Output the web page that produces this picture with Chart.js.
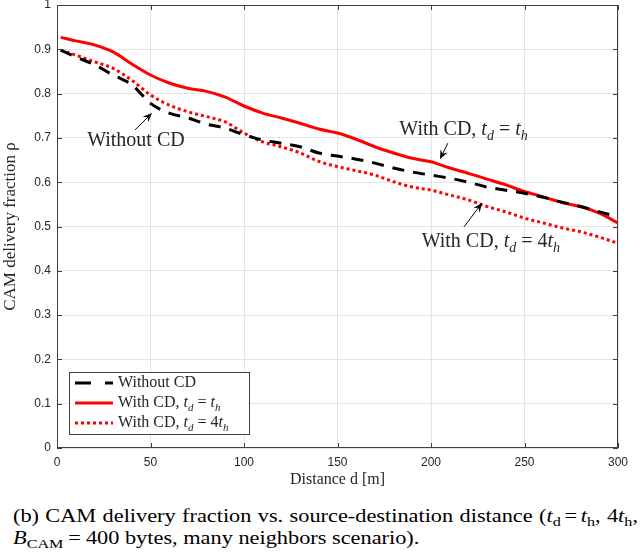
<!DOCTYPE html>
<html>
<head>
<meta charset="utf-8">
<script src="https://cdn.jsdelivr.net/npm/chart.js@4.4.1/dist/chart.umd.min.js"></script>
<style>
  html, body { margin: 0; padding: 0; background: #fff; }
  #wrap { position: absolute; left: 0; top: 0; width: 644px; height: 490px; }
  .cap {
    position: absolute; left: 13px;
    font-family: "Liberation Serif", "Times New Roman", serif;
    font-size: 18px; line-height: 22px; color: #000; white-space: nowrap;
    transform: scaleX(1.24); transform-origin: 0 0;
  }
  .l1 { top: 505px; width: 504px; text-align: justify; text-align-last: justify; white-space: normal; }
  .l2 { top: 527px; }
  .cap sub { font-size: 13px; vertical-align: -4px; line-height: 0; }
  .eq { margin: 0 3px; }
  .l2 .eq { margin: 0 4px; }
</style>
</head>
<body>
<div id="wrap"><canvas id="chart" width="644" height="490"></canvas></div>
<div class="cap l1">(b) CAM delivery fraction vs. source-destination distance (<i>t</i><sub>d</sub><span class="eq">=</span><i>t</i><sub>h</sub>, 4<i>t</i><sub>h</sub>,</div>
<div class="cap l2"><i>B</i><sub>CAM</sub><span class="eq">=</span>400 bytes, many neighbors scenario).</div>
<script>
// distance d [m]
const distances = [2, 10, 20, 30, 40, 50, 60, 70, 80, 90, 100, 110, 120, 130, 140, 150,
  160, 170, 180, 190, 200, 210, 220, 230, 240, 250, 260, 270, 280, 290, 300];

const withoutCD = [0.898, 0.883, 0.865, 0.842, 0.820, 0.778, 0.756, 0.745, 0.731, 0.722, 0.707,
  0.695, 0.688, 0.680, 0.666, 0.659, 0.652, 0.643, 0.632, 0.623, 0.616, 0.609, 0.600, 0.589,
  0.582, 0.575, 0.566, 0.555, 0.545, 0.533, 0.522];

const withCD1 = [0.927, 0.919, 0.910, 0.894, 0.867, 0.842, 0.824, 0.812, 0.805, 0.792, 0.772,
  0.756, 0.745, 0.733, 0.720, 0.711, 0.697, 0.680, 0.666, 0.654, 0.646, 0.632, 0.620, 0.607,
  0.594, 0.579, 0.567, 0.554, 0.545, 0.530, 0.508];

const withCD4 = [0.898, 0.887, 0.872, 0.857, 0.830, 0.797, 0.774, 0.759, 0.748, 0.736, 0.711,
  0.691, 0.680, 0.666, 0.647, 0.635, 0.626, 0.616, 0.601, 0.589, 0.582, 0.571, 0.560, 0.545,
  0.533, 0.519, 0.508, 0.497, 0.488, 0.476, 0.462];

const xTicks = [0, 50, 100, 150, 200, 250, 300];
const yTicks = [0, 0.1, 0.2, 0.3, 0.4, 0.5, 0.6, 0.7, 0.8, 0.9, 1];

const serif = '"Liberation Serif", "Times New Roman", serif';
const sans = '"Liberation Sans", Arial, Helvetica, sans-serif';

// rich text pieces: i = italic, sub = subscript
const labelNo = [{ t: 'Without CD' }];
const labelTh = [{ t: 'With CD, ' }, { t: 't', i: true }, { t: 'd', i: true, sub: true },
  { t: ' = ' }, { t: 't', i: true }, { t: 'h', i: true, sub: true }];
const label4Th = [{ t: 'With CD, ' }, { t: 't', i: true }, { t: 'd', i: true, sub: true },
  { t: ' = 4' }, { t: 't', i: true }, { t: 'h', i: true, sub: true }];

// annotations in data units: text centre, arrow tail, arrow head
const notes = [
  { parts: labelNo, tx: 42.2, ty: 0.693, ax: 41.7, ay: 0.718, hx: 50.8, hy: 0.756 },
  { parts: labelTh, tx: 217.4, ty: 0.718, ax: 209, ay: 0.688, hx: 204.8, hy: 0.652 },
  { parts: label4Th, tx: 232, ty: 0.465, ax: 217.6, ay: 0.499, hx: 227.3, hy: 0.553 }
];

function partFont(p, size) {
  const s = p.sub ? Math.round(size * 0.7) : size;
  return (p.i ? 'italic ' : '') + s + 'px ' + serif;
}

function richWidth(ctx, parts, size) {
  let w = 0;
  parts.forEach(function (p) {
    ctx.font = partFont(p, size);
    w += ctx.measureText(p.t).width;
  });
  return w;
}

function drawRich(ctx, parts, x, y, size) {
  ctx.textBaseline = 'middle';
  ctx.textAlign = 'left';
  ctx.fillStyle = '#262626';
  parts.forEach(function (p) {
    ctx.font = partFont(p, size);
    ctx.fillText(p.t, x, p.sub ? y + size * 0.3 : y);
    x += ctx.measureText(p.t).width;
  });
}

function arrow(ctx, x1, y1, x2, y2) {
  const a = Math.atan2(y2 - y1, x2 - x1);
  const len = 10;
  ctx.strokeStyle = '#000';
  ctx.fillStyle = '#000';
  ctx.lineWidth = 1;
  ctx.setLineDash([]);
  ctx.beginPath();
  ctx.moveTo(x1, y1);
  ctx.lineTo(x2 - Math.cos(a) * 4, y2 - Math.sin(a) * 4);
  ctx.stroke();
  ctx.beginPath();
  ctx.moveTo(x2, y2);
  ctx.lineTo(x2 - len * Math.cos(a - 0.4), y2 - len * Math.sin(a - 0.4));
  ctx.lineTo(x2 - len * 0.6 * Math.cos(a), y2 - len * 0.6 * Math.sin(a));
  ctx.lineTo(x2 - len * Math.cos(a + 0.4), y2 - len * Math.sin(a + 0.4));
  ctx.closePath();
  ctx.fill();
}

const boxPlugin = {
  id: 'boxPlugin',
  afterDraw(chart) {
    const ctx = chart.ctx;
    const area = chart.chartArea;
    const xs = chart.scales.x;
    const ys = chart.scales.y;
    ctx.save();

    // axes box with inward ticks on every side
    ctx.strokeStyle = '#404040';
    ctx.lineWidth = 1;
    ctx.setLineDash([]);
    ctx.strokeRect(area.left + 0.5, area.top + 0.5, area.right - area.left - 1, area.bottom - area.top - 1);
    ctx.beginPath();
    xTicks.forEach(function (v) {
      const px = Math.round(xs.getPixelForValue(v)) + 0.5;
      ctx.moveTo(px, area.bottom); ctx.lineTo(px, area.bottom - 5);
      ctx.moveTo(px, area.top); ctx.lineTo(px, area.top + 5);
    });
    yTicks.forEach(function (v) {
      const py = Math.round(ys.getPixelForValue(v)) + 0.5;
      ctx.moveTo(area.left, py); ctx.lineTo(area.left + 5, py);
      ctx.moveTo(area.right, py); ctx.lineTo(area.right - 5, py);
    });
    ctx.stroke();

    // annotations
    notes.forEach(function (n) {
      const size = 20;
      const w = richWidth(ctx, n.parts, size);
      drawRich(ctx, n.parts, xs.getPixelForValue(n.tx) - w / 2, ys.getPixelForValue(n.ty), size);
      arrow(ctx, xs.getPixelForValue(n.ax), ys.getPixelForValue(n.ay),
        xs.getPixelForValue(n.hx), ys.getPixelForValue(n.hy));
    });

    // legend box, lower left
    const lx = area.left + 12, ly = area.bottom - 76;
    const lw = 180, lh = 62;
    ctx.fillStyle = '#fff';
    ctx.fillRect(lx, ly, lw, lh);
    ctx.strokeStyle = '#404040';
    ctx.lineWidth = 1;
    ctx.strokeRect(lx + 0.5, ly + 0.5, lw, lh);
    const rows = [labelNo, labelTh, label4Th];
    chart.data.datasets.forEach(function (ds, i) {
      const ry = ly + 11 + i * 20;
      ctx.strokeStyle = ds.borderColor;
      ctx.lineWidth = ds.borderWidth;
      ctx.setLineDash(i === 0 ? [16, 14] : ds.borderDash);
      ctx.beginPath();
      ctx.moveTo(lx + 6, ry);
      ctx.lineTo(lx + 44, ry);
      ctx.stroke();
      ctx.setLineDash([]);
      drawRich(ctx, rows[i], lx + 49, ry, 16);
    });
    ctx.restore();
  }
};

const toPts = (ys) => distances.map((d, i) => ({ x: d, y: ys[i] }));

new Chart(document.getElementById('chart'), {
  type: 'line',
  data: {
    datasets: [
      { label: 'Without CD', data: toPts(withoutCD), borderColor: '#000000', borderWidth: 3,
        borderDash: [12, 9], pointRadius: 0, cubicInterpolationMode: 'monotone' },
      { label: 'With CD, td = th', data: toPts(withCD1), borderColor: '#ff0000', borderWidth: 3,
        borderDash: [], pointRadius: 0, cubicInterpolationMode: 'monotone' },
      { label: 'With CD, td = 4th', data: toPts(withCD4), borderColor: '#ff0000', borderWidth: 3,
        borderDash: [3, 3], pointRadius: 0, cubicInterpolationMode: 'monotone' }
    ]
  },
  options: {
    responsive: false,
    animation: false,
    layout: { padding: { top: 5, right: 26, left: 0, bottom: 0 } },
    plugins: { legend: { display: false }, tooltip: { enabled: false } },
    scales: {
      x: {
        type: 'linear', min: 0, max: 300,
        afterBuildTicks: (s) => { s.ticks = xTicks.map((v) => ({ value: v })); },
        afterFit: (s) => { s.height = 42; s.paddingLeft = 0; s.paddingRight = 0; },
        grid: { color: '#e4e4e4', drawTicks: false },
        border: { display: false },
        ticks: { padding: 7, color: '#262626', font: { family: sans, size: 12 }, maxRotation: 0 },
        title: { display: true, text: 'Distance d [m]', color: '#262626',
          font: { family: serif, size: 16 }, padding: { top: 0, bottom: 1 } }
      },
      y: {
        type: 'linear', min: 0, max: 1,
        afterBuildTicks: (s) => { s.ticks = yTicks.map((v) => ({ value: v })); },
        afterFit: (s) => { s.width = 57; s.paddingTop = 0; s.paddingBottom = 0; },
        grid: { color: '#e4e4e4', drawTicks: false },
        border: { display: false },
        ticks: { padding: 6, color: '#262626', font: { family: sans, size: 12 },
          callback: (v) => String(Math.round(v * 10) / 10) },
        title: { display: true, text: 'CAM delivery fraction ρ', color: '#262626',
          font: { family: serif, size: 17 }, padding: { top: 0, bottom: 0 } }
      }
    }
  },
  plugins: [boxPlugin]
});
</script>
</body>
</html>
